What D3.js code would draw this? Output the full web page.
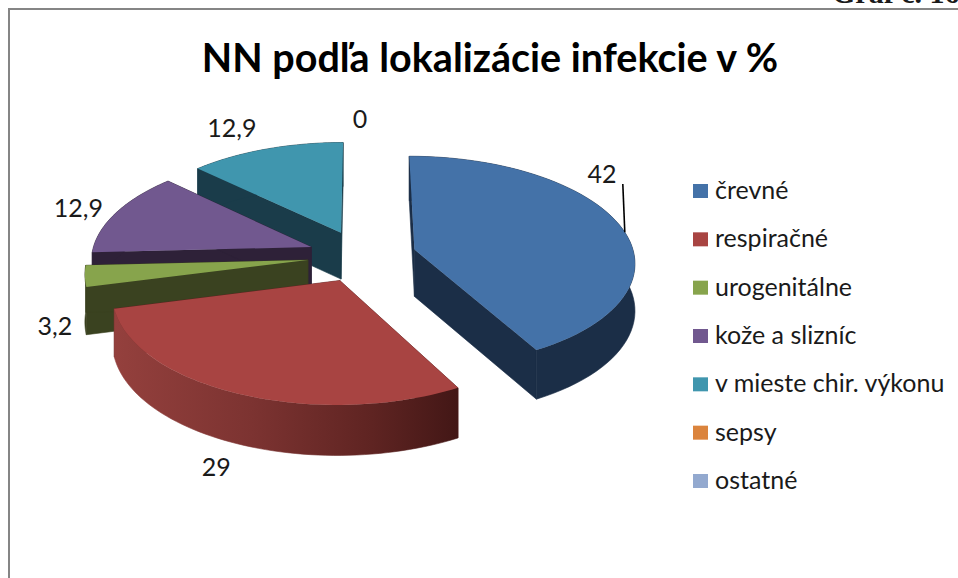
<!DOCTYPE html>
<html>
<head>
<meta charset="utf-8">
<script src="https://cdn.jsdelivr.net/npm/d3@7"></script>
<style>
  html, body { margin: 0; padding: 0; background: #fff; overflow: hidden; }
  text { font-family: Lato, sans-serif; fill: #1a1a1a; }
</style>
</head>
<body>
<script>
const categories = ['črevné', 'respiračné', 'urogenitálne', 'kože a slizníc', 'v mieste chir. výkonu', 'sepsy', 'ostatné']
const values = [42, 29, 3.2, 12.9, 12.9, 0, 0]
const valueLabels = ['42', '29', '3,2', '12,9', '12,9', '0', '']
const topColors = ['#4472a8', '#a84442', '#87a44c', '#71588f', '#4096ae', '#db843d', '#93a9cf']
const wallColors = ['#1b2e47', '#5a2120', '#3a4220', '#2e2138', '#1a3c4a', '#6a3d18', '#46526a']

// width and height of svg
const w = 958
const h = 578

// pie geometry, fitted to the reference
const cx = 362
const cy = 256
const R = 220
const tilt = 0.477
const explode = 54.5
const depth = 47
const viewDist = 2000

const svg = d3.select('body')
    .append('svg')
    .attr('width', w)
    .attr('height', h)
    .style('display', 'block')

// frame of the embedded chart, runs off the right and bottom edge
svg.append('rect')
    .attr('x', 9)
    .attr('y', 9)
    .attr('width', w + 20)
    .attr('height', h + 20)
    .attr('fill', '#fff')
    .attr('stroke', '#858585')
    .attr('stroke-width', 2)

// caption of the page above, cut off by the crop
svg.append('text')
    .attr('x', 832)
    .attr('y', 3)
    .style('font-family', '"Liberation Serif", serif')
    .style('font-weight', 700)
    .style('font-size', '30px')
    .text('Graf č. 16')

svg.append('text')
    .attr('x', 490)
    .attr('y', 72)
    .attr('text-anchor', 'middle')
    .style('font-weight', 700)
    .style('font-size', '39.5px')
    .style('fill', '#000')
    .text('NN podľa lokalizácie infekcie v %')

const color = d3.scaleOrdinal().domain(categories).range(topColors)
const wallColor = d3.scaleOrdinal().domain(categories).range(wallColors)

const slices = d3.pie().sort(null)(values)
    .map((s, i) => ({ ...s, name: categories[i], label: valueLabels[i] }))

// world point of a slice (angle clockwise from the back) to screen
const project = (s, a, r, z) => {
    const mid = (s.startAngle + s.endAngle) / 2
    const X = explode * Math.sin(mid) + r * Math.sin(a)
    const Y = -explode * Math.cos(mid) - r * Math.cos(a)
    const p = viewDist / (viewDist - Y)
    return [cx + X * p, cy + tilt * Y * p + z * Math.sqrt(p)]
}

const rim = (s, z) => d3.range(0, 61).map(t => {
    const a = s.startAngle + (s.endAngle - s.startAngle) * t / 60
    return project(s, a, R, z)
})

const line = d3.line()

const defs = svg.append('defs')
const redWall = defs.append('linearGradient')
    .attr('id', 'redWall')
    .attr('gradientUnits', 'userSpaceOnUse')
    .attr('x1', 115).attr('x2', 457)
    .attr('y1', 0).attr('y2', 0)
redWall.selectAll('stop')
    .data([[0, '#94403d'], [0.4, '#7c3331'], [0.75, '#5f2422'], [1, '#431716']])
    .enter()
    .append('stop')
    .attr('offset', d => d[0])
    .attr('stop-color', d => d[1])

// painter's order: back slices first
const drawOrder = [4, 3, 2, 0, 1]
const pie = svg.append('g')

drawOrder.forEach(i => {
    const s = slices[i]
    const g = pie.append('g').attr('class', 'slice')
    const apexTop = project(s, 0, 0, 0)
    const apexBottom = project(s, 0, 0, depth)
    const top = rim(s, 0)
    const bottom = rim(s, depth)

    // two radial walls
    const walls = [[top[0], bottom[0]], [top[60], bottom[60]]]
    walls.forEach(e => {
        g.append('path')
            .attr('d', line([apexTop, e[0], e[1], apexBottom]) + 'Z')
            .attr('fill', wallColor(s.name))
            .attr('stroke', wallColor(s.name))
            .attr('stroke-width', 0.6)
    })
    // outer wall
    const wallPaint = i === 1 ? 'url(#redWall)' : wallColor(s.name)
    g.append('path')
        .attr('d', line(top.concat(bottom.slice().reverse())) + 'Z')
        .attr('fill', wallPaint)
        .attr('stroke', wallPaint)
        .attr('stroke-width', 0.6)
    // top face
    g.append('path')
        .attr('d', line([apexTop].concat(top)) + 'Z')
        .attr('fill', color(s.name))
})

// value labels: radial factor from the slice mid angle plus a small nudge
const labelLayout = [
    { r: 1.0, dx: -17, dy: -42 },
    { r: 1.0, dx: -21, dy: 83 },
    { r: 1.0, dx: -30, dy: 59 },
    { r: 1.0, dx: -38, dy: 4 },
    { r: 1.0, dx: -34, dy: -12 },
    { r: 1.0, dx: -2, dy: -13 }
]

svg.append('g')
    .selectAll('text')
    .data(slices.slice(0, 6))
    .enter()
    .append('text')
    .attr('x', (d, i) => project(d, (d.startAngle + d.endAngle) / 2, R * labelLayout[i].r, 0)[0] + labelLayout[i].dx)
    .attr('y', (d, i) => project(d, (d.startAngle + d.endAngle) / 2, R * labelLayout[i].r, 0)[1] + labelLayout[i].dy)
    .attr('text-anchor', 'middle')
    .style('font-size', '25px')
    .text(d => d.label)

// leader line of the largest slice
const leaderEnd = project(slices[0], slices[0].startAngle + 0.53 * (slices[0].endAngle - slices[0].startAngle), R, 0)
svg.append('line')
    .attr('x1', leaderEnd[0] - 2)
    .attr('y1', 184)
    .attr('x2', leaderEnd[0])
    .attr('y2', leaderEnd[1])
    .attr('stroke', '#000')
    .attr('stroke-width', 1.6)

// legend
const legendY = d3.scalePoint().domain(categories).range([191, 481])
const legend = svg.append('g')
    .selectAll('g')
    .data(categories)
    .enter()
    .append('g')
    .attr('transform', d => `translate(693,${legendY(d)})`)

legend.append('rect')
    .attr('x', 0)
    .attr('y', -7)
    .attr('width', 15)
    .attr('height', 14)
    .attr('fill', d => color(d))

legend.append('text')
    .attr('x', 22)
    .attr('y', 8)
    .style('font-size', '25px')
    .text(d => d)
</script>
</body>
</html>
